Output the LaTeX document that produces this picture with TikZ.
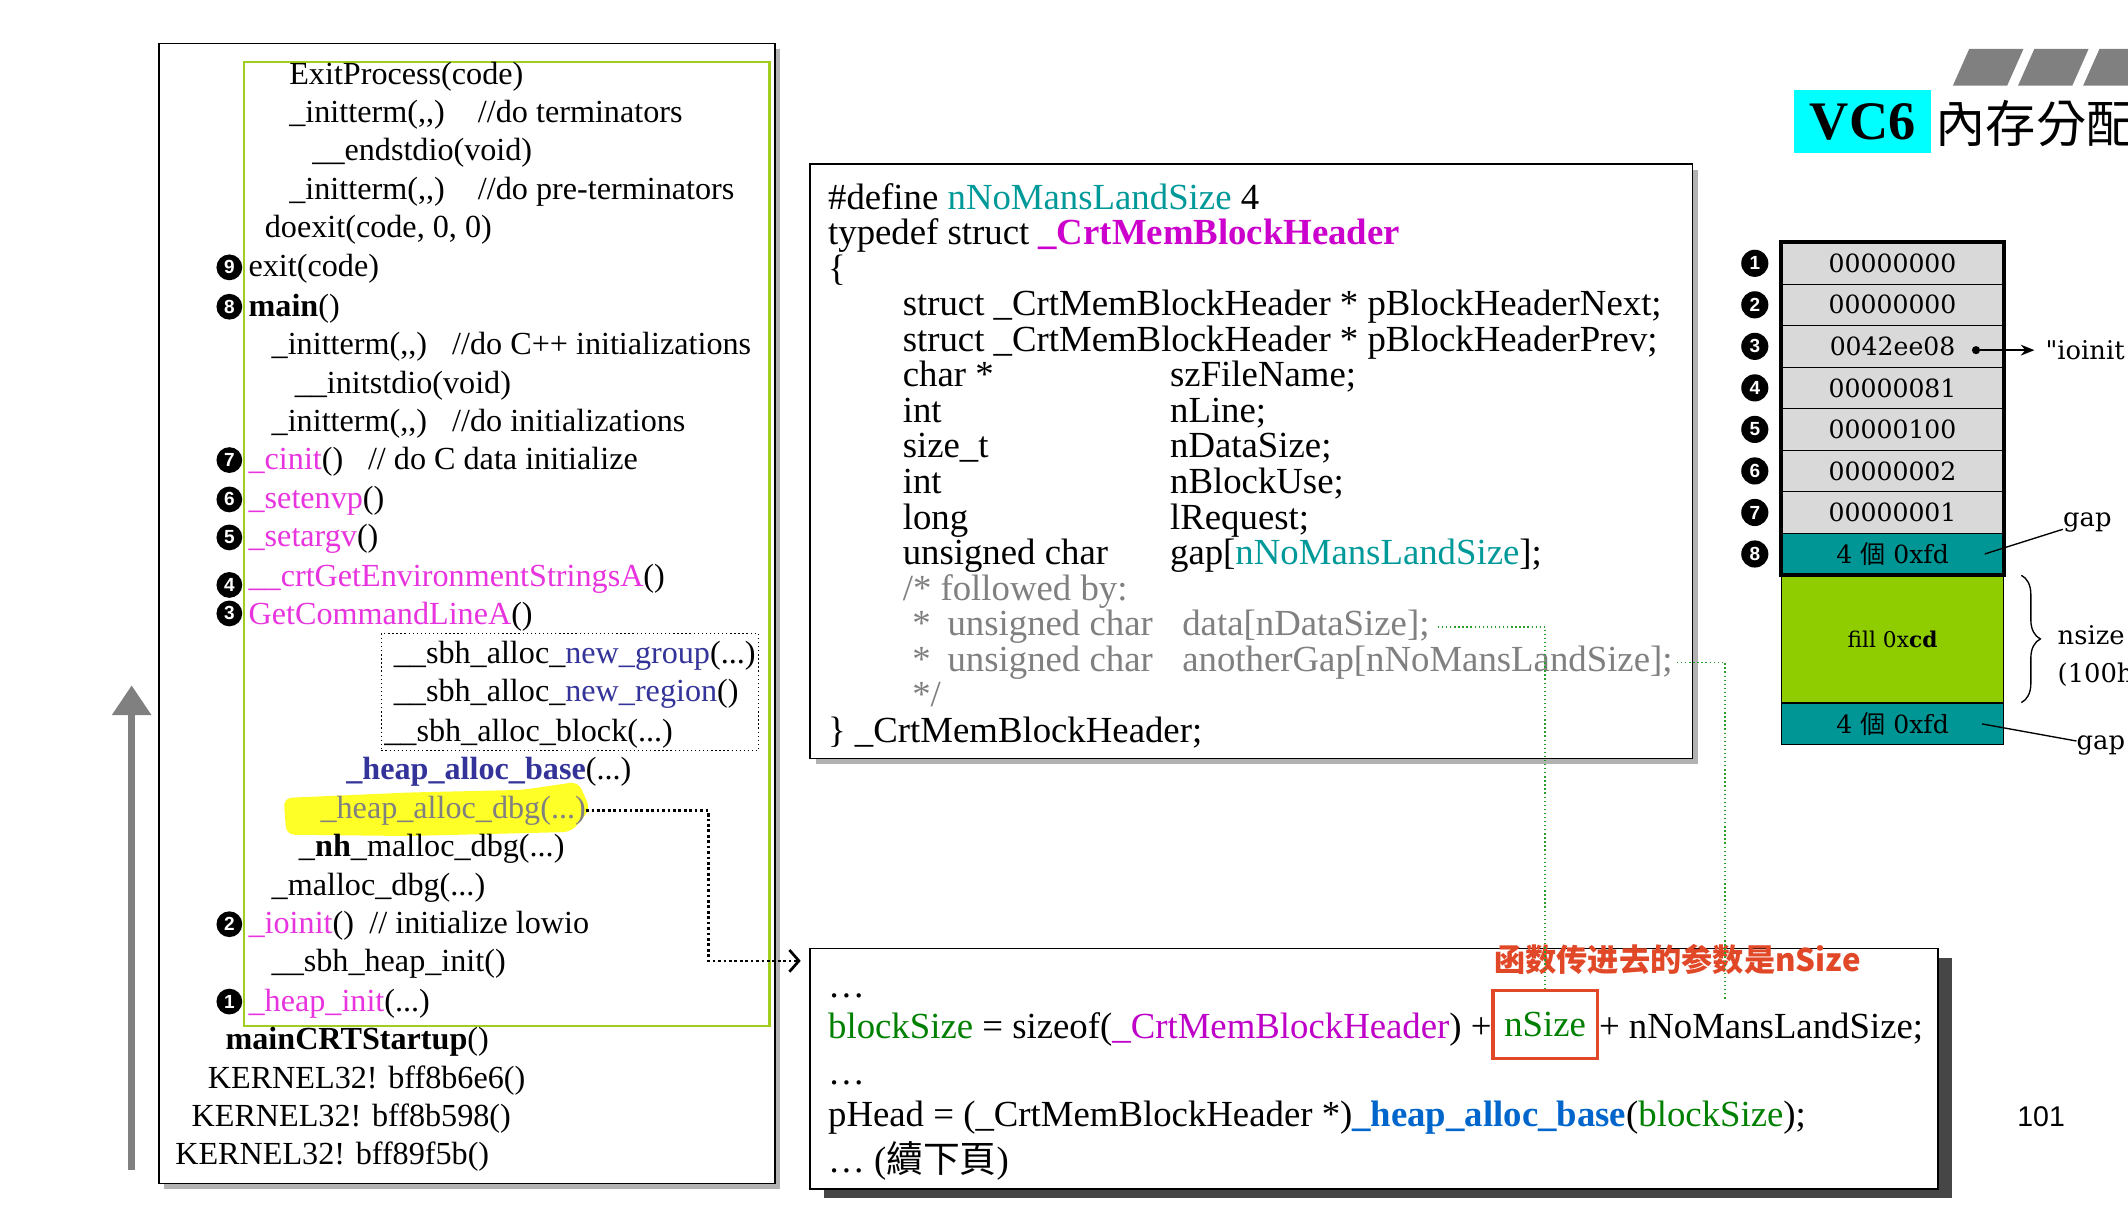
\documentclass[tikz,border=0pt]{standalone}
\usepackage{fontspec}
\setmainfont{Liberation Serif}
\setsansfont{Liberation Sans}
\newfontfamily\cjktc{Noto Sans CJK TC}
\newfontfamily\cjksc{Noto Sans CJK SC}
\newfontfamily\tabserif{DejaVu Serif}
\usetikzlibrary{arrows.meta,positioning,shadows,decorations.pathreplacing}

\definecolor{limeg}{RGB}{160,205,30}
\definecolor{pinkm}{RGB}{232,52,222}
\definecolor{navyb}{RGB}{51,51,153}
\definecolor{tealt}{RGB}{0,153,153}
\definecolor{magh}{RGB}{204,0,204}
\definecolor{violb}{RGB}{190,0,200}
\definecolor{codegreen}{RGB}{0,128,0}
\definecolor{blueb}{RGB}{0,102,204}
\definecolor{tealfill}{RGB}{0,150,150}
\definecolor{limefill}{RGB}{143,204,0}
\definecolor{cellgray}{RGB}{217,217,217}
\definecolor{redann}{RGB}{224,72,40}
\definecolor{hilite}{RGB}{255,255,40}
\definecolor{dotgreen}{RGB}{40,160,40}
\definecolor{titlecyan}{RGB}{0,255,255}

\newcommand{\pk}[1]{\textcolor{pinkm}{#1}}
\newcommand{\nv}[1]{\textcolor{navyb}{#1}}
\newcommand{\tl}[1]{\textcolor{tealt}{#1}}
\newcommand{\mg}[1]{\textcolor{magh}{#1}}
\newcommand{\gr}[1]{\textcolor{codegreen}{#1}}
\newcommand{\dts}{...}
\newcommand{\cc}{(,\kern0pt,\kern0pt)}

\tikzset{
  lcode/.style={anchor=base west, inner sep=0pt, font=\fontsize{23.7}{28}\selectfont},
  scode/.style={anchor=base west, inner sep=0pt, font=\fontsize{27.1}{26}\selectfont},
  num/.style={circle, fill=black, text=white, inner sep=0pt, minimum size=19pt,
    font=\sffamily\bfseries\fontsize{14}{14}\selectfont},
  cell/.style={draw=black, line width=0.8pt, minimum width=163pt, minimum height=30.6pt,
    inner sep=0pt, font=\tabserif\fontsize{18.5}{18.5}\selectfont},
  lbl/.style={anchor=west, inner sep=0pt, font=\tabserif\fontsize{19}{19}\selectfont},
  frame/.style={draw=black, line width=1.2pt, fill=white, inner sep=0pt},
  gdot/.style={draw=dotgreen, dotted, line width=1pt},
}

\begin{document}
\begin{tikzpicture}[x=1pt,y=-1pt]
\clip (0,0) rectangle (1568,905);
\fill[white] (0,0) rectangle (1568,905);

% boxes
\node[frame, drop shadow={shadow xshift=4pt, shadow yshift=-4pt, fill=gray!60, opacity=1},
  minimum width=454pt, minimum height=840pt] (lbox) at (344,452) {};
\node[draw=limeg, line width=1.5pt, minimum width=387pt, minimum height=710pt] (gbox) at (373.5,401) {};
\node[draw, dotted, line width=1pt, minimum width=278pt, minimum height=86pt] (sbhbox) at (420,510) {};
\node[frame, drop shadow={shadow xshift=4pt, shadow yshift=-4pt, fill=gray!60, opacity=1},
  minimum width=650pt, minimum height=438pt] (stbox) at (922,340) {};
\node[frame, drop shadow={shadow xshift=10pt, shadow yshift=-7pt, fill=gray!55!black, opacity=1},
  minimum width=831pt, minimum height=177pt] (botbox) at (1012.5,787.5) {};

% marker under _heap_alloc_dbg
\fill[hilite, rounded corners=6pt] (209,588) -- (300,584) -- (385,582) -- (426,576)
  -- (435,596) -- (421,613) -- (300,616) -- (211,615) -- cycle;

% call stack
\foreach \x/\y/\t [count=\i] in {
  213/55/{ExitProcess(code)},
  213/83/{\makebox[139pt][l]{\_initterm\cc}//do terminators},
  230/111/{\_\_endstdio(void)},
  213/140/{\makebox[139pt][l]{\_initterm\cc}//do pre-terminators},
  195/168/{doexit(code, 0, 0)},
  183/197/{exit(code)},
  183/226/{\textbf{main}()},
  200/254/{\makebox[133pt][l]{\_initterm\cc}//do C++ initializations},
  217/283/{\_\_initstdio(void)},
  200/311/{\makebox[133pt][l]{\_initterm\cc}//do initializations},
  183/339/{\makebox[88pt][l]{\pk{\_cinit}()}// do C data initialize},
  183/368/{\pk{\_setenvp}()},
  183/396/{\pk{\_setargv}()},
  183/425/{\pk{\_\_crtGetEnvironmentStringsA}()},
  183/453/{\pk{GetCommandLineA}()},
  290/482/{\_\_sbh\_alloc\_\nv{new\_group}(\dts)},
  290/510/{\_\_sbh\_alloc\_\nv{new\_region}()},
  283/539/{\_\_sbh\_alloc\_block(\dts)},
  255/567/{\textbf{\nv{\_heap\_alloc\_base}}(\dts)},
  236/596/{\textcolor{gray}{\_heap\_alloc\_dbg(\dts)}},
  220/624/{\_\textbf{nh}\_malloc\_dbg(\dts)},
  200/653/{\_malloc\_dbg(\dts)},
  183/681/{\makebox[89pt][l]{\pk{\_ioinit}()}// initialize lowio},
  200/709/{\_\_sbh\_heap\_init()},
  183/738/{\pk{\_heap\_init}(\dts)},
  166/766/{\textbf{mainCRTStartup}()},
  153/795/{KERNEL32! bff8b6e6()},
  141/823/{KERNEL32! bff8b598()},
  129/851/{KERNEL32! bff89f5b()}}
  \node[lcode] (ln\i) at (\x,\y+7) {\t};

\foreach \n/\y in {9/197, 8/226, 7/339, 6/368, 5/396, 4/431, 3/452, 2/681, 1/738}
  \node[num] (c\n) at (169,\y) {\n};

% time goes up
\draw[line width=5pt, draw=gray, -{Triangle[length=22pt,width=28pt]}] (97,862) -- (97,505);

% struct
\foreach \x/\t [count=\i] in {
  610/{\#define \tl{nNoMansLandSize} 4},
  610/{typedef struct \textbf{\mg{\_CrtMemBlockHeader}}},
  610/{\{},
  665/{struct \_CrtMemBlockHeader * pBlockHeaderNext;},
  665/{struct \_CrtMemBlockHeader * pBlockHeaderPrev;},
  665/{\makebox[197pt][l]{char *}szFileName;},
  665/{\makebox[197pt][l]{int}nLine;},
  665/{\makebox[197pt][l]{size\_t}nDataSize;},
  665/{\makebox[197pt][l]{int}nBlockUse;},
  665/{\makebox[197pt][l]{long}lRequest;},
  665/{\makebox[197pt][l]{unsigned char}gap[\tl{nNoMansLandSize}];},
  665/{\textcolor{gray}{/* followed by:}},
  672/{\textcolor{gray}{\makebox[26pt][l]{*}\makebox[173pt][l]{unsigned char}data[nDataSize];}},
  672/{\textcolor{gray}{\makebox[26pt][l]{*}\makebox[173pt][l]{unsigned char}anotherGap[nNoMansLandSize];}},
  672/{\textcolor{gray}{*/}},
  610/{\} \_CrtMemBlockHeader;}}
  \node[scode] (s\i) at (\x,{145+26.2*(\i-1)+9}) {\t};

% code below
\node[scode] (b1) at (610,735) {…};
\node[scode] (b2) at (610,765) {\gr{blockSize} = sizeof(\textcolor{violb}{\_CrtMemBlockHeader}) +};
\node[draw=redann, line width=2.5pt, minimum width=77pt, minimum height=50pt, inner sep=0pt,
  font=\fontsize{27.1}{26}\selectfont] (nsz) at (1138.5,755) {\gr{nSize}};
\node[scode] (b3) at (1178,765) {+ nNoMansLandSize;};
\node[scode] (b4) at (610,799) {…};
\node[scode] (b5) at (610,830) {pHead = (\_CrtMemBlockHeader *)\textbf{\textcolor{blueb}{\_heap\_alloc\_base}}(\gr{blockSize});};
\node[scode] (b6) at (610,864) {… ({\cjktc 續下頁})};
\node[font=\cjksc\bfseries\fontsize{23}{23}\selectfont, text=redann, inner sep=0pt] (note) at (1236,707) {函数传进去的参数是nSize};

% connectors
\coordinate (turn) at (522,601);
\coordinate (arrend) at (590,708);
\draw[line width=2pt, dotted, -{Straight Barb[length=7pt,width=16pt]}] (ln20.east) -| (turn) |- (arrend);
\coordinate (gapend) at (1271,737);
\draw[gdot, shorten <=6pt] (s13.east) -| (nsz.north);
\draw[gdot, shorten <=3pt] (s14.east) -| (gapend);

% memory block
\foreach \v [count=\i] in {00000000,00000000,0042ee08,00000081,00000100,00000002,00000001}
  \node[cell, fill=cellgray] (r\i) at (1394.5,{194+30.6*(\i-1)}) {\v};
\node[cell, fill=tealfill] (r8) at (1394.5,408.2) {4 {\cjktc 個} 0xfd};
\node[cell, fill=limefill, minimum height=93pt, anchor=north,
  font=\tabserif\fontsize{16}{16}\selectfont] (fillcd) at (r8.south) {fill 0x\textbf{cd}};
\node[cell, fill=tealfill, anchor=north] (r10) at (fillcd.south) {4 {\cjktc 個} 0xfd};
\draw[line width=3pt] (r1.north west) rectangle (r8.south east);
\foreach \i in {1,...,8}
  \node[num, minimum size=20pt] (t\i) at (1293,{194+30.6*(\i-1)}) {\i};

\node[circle, fill=black, inner sep=0pt, minimum size=6pt] (p3) at (1456,258) {};
\node[lbl] (io) at (1507,258) {"ioinit};
\draw[line width=1pt, -{Stealth[length=10pt,width=8pt]}, shorten >=8pt] (p3) -- (io);

\node[lbl] (gap1) at (1520,385) {gap};
\draw[line width=1pt] ([xshift=-14pt]r8.east) -- ([yshift=-5pt]gap1.west);
\node[lbl] (gap2) at (1530,549) {gap};
\draw[line width=1pt] ([xshift=-16pt]r10.east) -- ([yshift=3pt]gap2.west);
\draw[line width=1pt, decorate, decoration={brace, amplitude=14pt}]
  ([xshift=13pt]fillcd.north east) -- ([xshift=13pt]fillcd.south east);
\node[lbl] (ns) at (1516,468) {nsize};
\node[lbl] (nh) at (1516,497) {(100h};

% title
\foreach \x in {1439,1487,1535}
  \fill[gray] (\x,63) -- ++(40,0) -- ++(12,-27) -- ++(-40,0) -- cycle;
\node[fill=titlecyan, minimum width=101pt, minimum height=47pt, inner sep=0pt,
  font=\bfseries\fontsize{40}{40}\selectfont] (vc) at (1372.5,89.5) {VC6};
\node[anchor=west, inner sep=0pt, font=\cjktc\fontsize{37}{37}\selectfont] (ttl) at (1426,91) {內存分配};

\node[font=\sffamily\fontsize{21}{21}\selectfont] (pg) at (1504,823) {101};
\end{tikzpicture}
\end{document}
